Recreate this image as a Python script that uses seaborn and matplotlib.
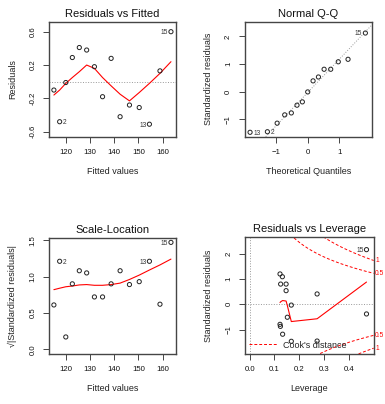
import matplotlib
matplotlib.use("Agg")
import matplotlib.pyplot as plt
import matplotlib.transforms as mtransforms
from matplotlib.lines import Line2D
import numpy as np
import pandas as pd
import seaborn as sns

# values
obs_id = list(range(1, 16))
fitted = [115.10, 117.48, 120.01, 122.71, 125.59, 128.62, 131.82, 135.18,
          138.72, 142.42, 146.28, 150.31, 154.51, 158.87, 163.40]
residuals = [-0.10, -0.48, -0.01, 0.29, 0.41, 0.38, 0.18, -0.18,
             0.28, -0.42, -0.28, -0.31, -0.51, 0.13, 0.60]
resid_smooth = [-0.16, -0.10, -0.02, 0.05, 0.12, 0.20, 0.16, 0.05,
                -0.05, -0.15, -0.23, -0.13, -0.02, 0.10, 0.24]

theo_quant = [-1.83, -1.28, -0.97, -0.73, -0.52, -0.34, -0.17, 0.0,
              0.17, 0.34, 0.52, 0.73, 0.97, 1.28, 1.83]
qq_sample = [-1.47, -1.45, -1.14, -0.84, -0.77, -0.49, -0.37, -0.01,
             0.39, 0.53, 0.81, 0.81, 1.08, 1.17, 2.12]
qq_ids = [13, 2, 10, 12, 11, 8, 1, 3, 14, 7, 4, 9, 6, 5, 15]
qq_line_intercept = -0.03
qq_line_slope = 1.2

scale_loc = [0.61, 1.21, 0.17, 0.90, 1.08, 1.05, 0.72, 0.72,
             0.90, 1.08, 0.89, 0.93, 1.21, 0.62, 1.47]
scale_smooth = [0.82, 0.84, 0.86, 0.87, 0.885, 0.89, 0.88, 0.88,
                0.89, 0.91, 0.96, 1.02, 1.09, 1.16, 1.24]

leverage = [0.471, 0.272, 0.168, 0.125, 0.1225, 0.132, 0.147, 0.152,
            0.147, 0.133, 0.1225, 0.124, 0.168, 0.272, 0.471]
std_resid = [-0.38, -1.45, -0.03, 0.80, 1.20, 1.09, 0.54, -0.51,
             0.80, -1.18, -0.79, -0.87, -1.46, 0.41, 2.16]
lev_smooth_x = [0.1225, 0.125, 0.133, 0.147, 0.152, 0.168, 0.272, 0.471]
lev_smooth_y = [0.07, 0.10, 0.15, 0.13, -0.05, -0.68, -0.57, 0.88]
cook_levels = [0.5, 1.0]
n_params = 3

df = pd.DataFrame({"id": obs_id, "fitted": fitted, "resid": residuals,
                   "rsmooth": resid_smooth, "scale": scale_loc,
                   "ssmooth": scale_smooth, "lev": leverage, "std": std_resid})
qq = pd.DataFrame({"theo": theo_quant, "sample": qq_sample, "id": qq_ids})

sns.set_style("white")
plt.rcParams["font.family"] = ["Liberation Sans", "DejaVu Sans"]

FRAME = "#454545"
PT = "#222222"
LBL = "#333333"

fig = plt.figure(figsize=(3.85, 4.04), dpi=100)
ax1 = fig.add_axes([0.128, 0.6616, 0.328, 0.2847])
ax2 = fig.add_axes([0.6356, 0.6616, 0.3314, 0.2847])
ax3 = fig.add_axes([0.128, 0.1245, 0.328, 0.2864])
ax4 = fig.add_axes([0.6371, 0.1245, 0.3335, 0.2889])


def style(ax, title, xlabel, ylabel):
    for sp in ax.spines.values():
        sp.set_visible(True)
        sp.set_color(FRAME)
        sp.set_linewidth(1.0)
    ax.tick_params(direction="out", length=4.3, width=0.7, color=FRAME,
                   labelsize=5.6, pad=4.8, labelcolor="#111111",
                   bottom=True, left=True)
    for lab in ax.get_yticklabels():
        lab.set_rotation(90)
        lab.set_va("center")
    ax.set_title(title, fontsize=8, pad=3.5, color="#111111")
    ax.set_xlabel(xlabel, fontsize=6.5, labelpad=8, color="#222222")
    ax.set_ylabel(ylabel, fontsize=6.5, labelpad=9, color="#222222")


def points(ax, data, x, y):
    sns.scatterplot(data=data, x=x, y=y, ax=ax, marker="o", s=9,
                    facecolor="none", edgecolor=PT, linewidth=0.7,
                    legend=False, zorder=3)


def tag(ax, x, y, text, side):
    dx = 2.2 if side == "right" else -2.2
    ax.annotate(text, (x, y), xytext=(dx, -0.6), textcoords="offset points",
                ha="left" if side == "right" else "right", va="center",
                fontsize=4.8, color=LBL)


# Residuals vs Fitted
ax1.axhline(0, color="#999999", lw=0.7, ls=":", zorder=1)
points(ax1, df, "fitted", "resid")
sns.lineplot(data=df, x="fitted", y="rsmooth", ax=ax1, color="red", lw=0.8,
             zorder=2)
ax1.set_xlim(113.2, 165.3)
ax1.set_ylim(-0.66, 0.72)
ax1.set_xticks([120, 130, 140, 150, 160])
ax1.set_yticks([-0.6, -0.2, 0.2, 0.6])
ax1.set_yticklabels(["-0.6", "-0.2", "0.2", "0.6"])
style(ax1, "Residuals vs Fitted", "Fitted values", "Residuals")
for i, side in [(1, "right"), (12, "left"), (14, "left")]:
    tag(ax1, fitted[i], residuals[i], str(obs_id[i]), side)

# Normal Q-Q
ax2.axline((0, qq_line_intercept), slope=qq_line_slope, color="#999999",
           lw=0.7, ls=":", zorder=1)
points(ax2, qq, "theo", "sample")
ax2.set_xlim(-2.0, 2.05)
ax2.set_ylim(-1.63, 2.53)
ax2.set_xticks([-1, 0, 1])
ax2.set_yticks([-1, 0, 1, 2])
style(ax2, "Normal Q-Q", "Theoretical Quantiles", "Standardized residuals")
for i, side in [(0, "right"), (1, "right"), (14, "left")]:
    tag(ax2, theo_quant[i], qq_sample[i], str(qq_ids[i]), side)

# Scale-Location
points(ax3, df, "fitted", "scale")
sns.lineplot(data=df, x="fitted", y="ssmooth", ax=ax3, color="red", lw=0.8,
             zorder=2)
ax3.set_xlim(113.2, 165.3)
ax3.set_ylim(-0.06, 1.53)
ax3.set_xticks([120, 130, 140, 150, 160])
ax3.set_yticks([0.0, 0.5, 1.0, 1.5])
ax3.set_yticklabels(["0.0", "0.5", "1.0", "1.5"])
style(ax3, "Scale-Location", "Fitted values",
      "\u221a|Standardized residuals|")
for i, side in [(1, "right"), (12, "left"), (14, "left")]:
    tag(ax3, fitted[i], scale_loc[i], str(obs_id[i]), side)

# Residuals vs Leverage
ax4.axhline(0, color="#999999", lw=0.7, ls=":", zorder=1)
ax4.axvline(0, color="#999999", lw=0.7, ls=":", zorder=1)
points(ax4, df, "lev", "std")
sns.lineplot(x=lev_smooth_x, y=lev_smooth_y, ax=ax4, color="red", lw=0.8,
             zorder=2, sort=False)
ax4.set_xlim(-0.0175, 0.5)
ax4.set_ylim(-1.95, 2.66)
hh = np.linspace(0.01, 0.5, 200)
trans = mtransforms.blended_transform_factory(ax4.transAxes, ax4.transData)
for lev in cook_levels:
    cy = np.sqrt(lev * n_params * (1 - hh) / hh)
    ax4.plot(hh, cy, color="red", lw=0.7, ls=(0, (3, 2)), zorder=2)
    ax4.plot(hh, -cy, color="red", lw=0.7, ls=(0, (3, 2)), zorder=2)
    aty = np.sqrt(lev * n_params * (1 - 0.5) / 0.5)
    lbl = "0.5" if lev == 0.5 else "1"
    for yy in (aty, -aty):
        ax4.text(1.012, yy, lbl, transform=trans, fontsize=4.8, color="red",
                 ha="left", va="center", clip_on=False)
ax4.set_xticks([0.0, 0.1, 0.2, 0.3, 0.4])
ax4.set_xticklabels(["0.0", "0.1", "0.2", "0.3", "0.4"])
ax4.set_yticks([-1, 0, 1, 2])
style(ax4, "Residuals vs Leverage", "Leverage", "Standardized residuals")
tag(ax4, leverage[14], std_resid[14], str(obs_id[14]), "left")
handle = Line2D([], [], color="red", lw=0.7, ls=(0, (3, 2)))
ax4.legend([handle], ["Cook's distance"], loc="lower left", frameon=False,
           fontsize=6.5, handlelength=3.2, handletextpad=0.5,
           borderaxespad=0.15, borderpad=0.3)

fig.savefig("out.png", dpi=100)
